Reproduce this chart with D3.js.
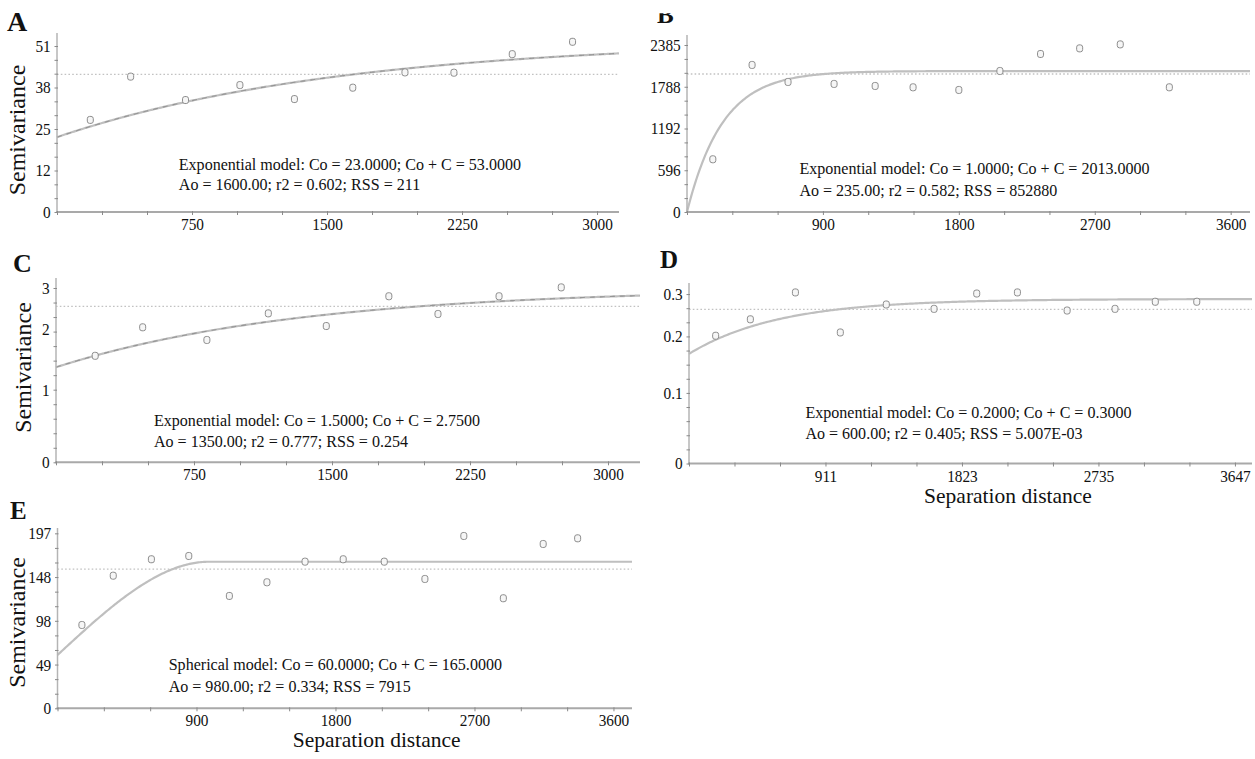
<!DOCTYPE html>
<html><head><meta charset="utf-8">
<script src="https://cdn.jsdelivr.net/npm/d3@7"></script>
<style>
html,body{margin:0;padding:0;background:#fff;}
svg{display:block;background:#fff;}
text{font-family:"Liberation Serif","Times New Roman",serif;fill:#111;}
</style></head><body>
<svg id="chart" width="1255" height="759"></svg>
<script>
// ================= DATA =================
const panelLetters = ["A", "B", "C", "D", "E"];

// semivariogram points: lag distance and semivariance
const aLags  = [185, 409, 714, 1016, 1319, 1643, 1933, 2205, 2529, 2864];
const aGamma = [28.3, 41.6, 34.4, 39.0, 34.7, 38.2, 42.9, 42.8, 48.5, 52.3];
const bLags  = [171, 431, 669, 974, 1246, 1497, 1800, 2072, 2341, 2600, 2869, 3194];
const bGamma = [753, 2100, 1857, 1829, 1800, 1781, 1743, 2014, 2257, 2337, 2394, 1781];
const cLags  = [213, 471, 820, 1154, 1469, 1809, 2076, 2408, 2746];
const cGamma = [1.68, 2.13, 1.93, 2.35, 2.15, 2.62, 2.34, 2.62, 2.76];
const dLags  = [178, 410, 711, 1011, 1318, 1637, 1922, 2194, 2526, 2846, 3115, 3392];
const dGamma = [0.233, 0.263, 0.312, 0.239, 0.290, 0.282, 0.310, 0.312, 0.279, 0.282, 0.295, 0.295];
const eLags  = [158, 361, 608, 850, 1113, 1356, 1603, 1850, 2116, 2379, 2631, 2887, 3145, 3368];
const eGamma = [93.8, 149.3, 167.8, 171.5, 126.5, 141.9, 165.1, 167.8, 165.1, 145.6, 194.0, 123.9, 185.0, 191.4];

// sample variance (dotted line) per panel
const sampleVariance = [42.3, 1971, 2.46, 0.281, 156.7];

// fitted models (from the panel texts)
const modelTypes = ["Exponential", "Exponential", "Exponential", "Exponential", "Spherical"];
const modelNugget = [23, 1, 1.5, 0.2, 60];
const modelSill   = [53, 2013, 2.75, 0.3, 165];
const modelRange  = [1600, 235, 1350, 600, 980];

const modelTextLine1 = [
  "Exponential model: Co = 23.0000; Co + C = 53.0000",
  "Exponential model: Co = 1.0000; Co + C = 2013.0000",
  "Exponential model: Co = 1.5000; Co + C = 2.7500",
  "Exponential model: Co = 0.2000; Co + C = 0.3000",
  "Spherical model: Co = 60.0000; Co + C = 165.0000"
];
const modelTextLine2 = [
  "Ao = 1600.00; r2 = 0.602; RSS = 211",
  "Ao = 235.00; r2 = 0.582; RSS = 852880",
  "Ao = 1350.00; r2 = 0.777; RSS = 0.254",
  "Ao = 600.00; r2 = 0.405; RSS = 5.007E-03",
  "Ao = 980.00; r2 = 0.334; RSS = 7915"
];

// tick labels
const aYTickValues = [0, 12.75, 25.5, 38.25, 51];
const aYTickLabels = ["0", "12", "25", "38", "51"];
const bYTickValues = [0, 596.25, 1192.5, 1788.75, 2385];
const bYTickLabels = ["0", "596", "1192", "1788", "2385"];
const cYTickValues = [0, 1.14, 2.1, 2.75];
const cYTickLabels = ["0", "1", "2", "3"];
const dYTickValues = [0, 0.128, 0.233, 0.309];
const dYTickLabels = ["0", "0.1", "0.2", "0.3"];
const eYTickValues = [0, 49.25, 98.5, 147.75, 197];
const eYTickLabels = ["0", "49", "98", "148", "197"];

const acXTickValues = [750, 1500, 2250, 3000];
const acXTickLabels = ["750", "1500", "2250", "3000"];
const beXTickValues = [900, 1800, 2700, 3600];
const beXTickLabels = ["900", "1800", "2700", "3600"];
const dXTickValues = [911.75, 1823.5, 2735.25, 3647];
const dXTickLabels = ["911", "1823", "2735", "3647"];

const yAxisTitle = "Semivariance";
const xAxisTitle = "Separation distance";

// ================= LAYOUT =================
const layout = [
  {x0: 57,  x1: 619,  y0: 212,   yTop: 33,  xMax: 3122, yMax: 55.0,   xMinor: 250,   yMinor: 51/12,
   txt: [178.8, 170, 190], letter: [7, 31, 28], ylab: [25, 130], xlab: null, dashed: true},
  {x0: 687, x1: 1250, y0: 212,   yTop: 35,  xMax: 3728, yMax: 2528,   xMinor: 300,   yMinor: 2385/12,
   txt: [799.4, 173.5, 195.5], letter: [657, 23.3, 25], ylab: null, xlab: null, dashed: false, clipTop: 13.3},
  {x0: 56,  x1: 640,  y0: 462.3, yTop: 278, xMax: 3174, yMax: 2.908,  xMinor: 250,   yMinor: 2.75/12,
   txt: [154, 425.5, 447], letter: [13, 271.7, 26], ylab: [31, 367.5], xlab: null, dashed: true},
  {x0: 689, x1: 1252, y0: 463.5, yTop: 283, xMax: 3761, yMax: 0.3292, xMinor: 3647/12, yMinor: 0.309/12,
   txt: [805.4, 418, 438.5], letter: [660, 268.3, 25], ylab: null, xlab: [1008, 502.8], dashed: false},
  {x0: 57.5, x1: 632, y0: 708.3, yTop: 528, xMax: 3720, yMax: 203.0,  xMinor: 300,   yMinor: 197/12,
   txt: [168.7, 670, 692], letter: [10, 518.5, 25], ylab: [25, 622.5], xlab: [376.7, 746.6], dashed: false}
];

const svg = d3.select("#chart");
svg.append("rect").attr("width", 1255).attr("height", 759).attr("fill", "#fff");

function modelValue(i, h) {
  const c0 = modelNugget[i], s = modelSill[i], a = modelRange[i];
  if (modelTypes[i] === "Spherical") {
    if (h >= a) return s;
    const r = h / a;
    return c0 + (s - c0) * (1.5 * r - 0.5 * r * r * r);
  }
  return c0 + (s - c0) * (1 - Math.exp(-h / a));
}

function drawPanel(i, lags, gamma, yTV, yTL, xTV, xTL) {
  const L = layout[i];
  const g = svg.append("g");
  const x = d3.scaleLinear().domain([0, L.xMax]).range([L.x0, L.x1]);
  const y = d3.scaleLinear().domain([0, L.yMax]).range([L.y0, L.yTop]);

  // sample variance dotted line
  g.append("line")
    .attr("x1", x(0)).attr("x2", x(L.xMax))
    .attr("y1", y(sampleVariance[i])).attr("y2", y(sampleVariance[i]))
    .attr("stroke", "#c2c2c2").attr("stroke-width", 1.3).attr("stroke-dasharray", "1.6,2.2");

  // model curve
  const hs = d3.range(0, L.xMax, L.xMax / 400).concat([L.xMax]);
  const line = d3.line().x(h => x(h)).y(h => y(modelValue(i, h)));
  g.append("path").attr("d", line(hs)).attr("fill", "none")
    .attr("stroke", "#bfbfbf").attr("stroke-width", 2.2);
  if (L.dashed) {
    g.append("path").attr("d", line(hs)).attr("fill", "none")
      .attr("stroke", "#959595").attr("stroke-width", 1.1).attr("stroke-dasharray", "5,5");
  }

  // axes lines
  g.append("line").attr("x1", x(0)).attr("x2", x(0)).attr("y1", y(0)).attr("y2", y(L.yMax))
    .attr("stroke", "#b4b4b4").attr("stroke-width", 1.5);
  g.append("line").attr("x1", x(0) - 1).attr("x2", x(L.xMax)).attr("y1", y(0)).attr("y2", y(0))
    .attr("stroke", "#a9a9a9").attr("stroke-width", 2);

  // minor ticks
  const yMinorVals = d3.range(0, L.yMax + 1e-12, L.yMinor).filter(v => v <= L.yMax);
  const yMin = g.append("g").attr("transform", `translate(${x(0)},0)`)
    .call(d3.axisLeft(y).tickValues(yMinorVals).tickSize(3).tickFormat(""));
  yMin.select(".domain").remove();
  yMin.selectAll(".tick line").attr("x1", 1).attr("x2", -2.5).attr("stroke", "#8a8a8a").attr("stroke-width", 1);

  const xMinorVals = d3.range(0, L.xMax + 1e-9, L.xMinor).filter(v => v <= L.xMax);
  const xMin = g.append("g").attr("transform", `translate(0,${y(0)})`)
    .call(d3.axisBottom(x).tickValues(xMinorVals).tickSize(3).tickFormat(""));
  xMin.select(".domain").remove();
  xMin.selectAll(".tick line").attr("y1", -1).attr("y2", 3).attr("stroke", "#8a8a8a").attr("stroke-width", 1);

  // major labels
  const yAx = g.append("g").attr("transform", `translate(${x(0)},0)`)
    .call(d3.axisLeft(y).tickValues(yTV).tickSize(0).tickPadding(6).tickFormat((d, k) => yTL[k]));
  yAx.select(".domain").remove();
  yAx.selectAll("text").attr("font-size", 17).attr("font-family", "Liberation Serif, serif")
    .attr("fill", "#111").attr("x", -7).attr("transform", "scale(0.9,1)");

  const xAx = g.append("g").attr("transform", `translate(0,${y(0)})`)
    .call(d3.axisBottom(x).tickValues(xTV).tickSize(0).tickPadding(6).tickFormat((d, k) => xTL[k]));
  xAx.select(".domain").remove();
  xAx.selectAll("text").attr("font-size", 17).attr("font-family", "Liberation Serif, serif")
    .attr("fill", "#111").attr("transform", "scale(0.9,1)");

  // points
  g.selectAll("rect.pt").data(lags.map((h, k) => [h, gamma[k]])).enter()
    .append("rect").attr("class", "pt")
    .attr("x", d => x(d[0]) - 3).attr("y", d => y(d[1]) - 3.5)
    .attr("width", 6).attr("height", 7).attr("rx", 2.3)
    .attr("fill", "#f6f6f6").attr("stroke", "#8d8d8d").attr("stroke-width", 1);

  // model text
  [modelTextLine1[i], modelTextLine2[i]].forEach((s, k) => {
    g.append("text").attr("transform", `translate(${L.txt[0]},${L.txt[1 + k]}) scale(0.945,1)`)
      .attr("font-size", 17).text(s);
  });

  // panel letter
  const lt = g.append("text").attr("x", L.letter[0]).attr("y", L.letter[1])
    .attr("font-size", L.letter[2]).attr("font-weight", "bold").text(panelLetters[i]);
  if (L.clipTop !== undefined) {
    svg.append("clipPath").attr("id", "clipB")
      .append("rect").attr("x", 640).attr("y", L.clipTop).attr("width", 60).attr("height", 30);
    lt.attr("clip-path", "url(#clipB)");
  }

  if (L.ylab) {
    g.append("text").attr("transform", `translate(${L.ylab[0]},${L.ylab[1]}) rotate(-90)`)
      .attr("text-anchor", "middle").attr("font-size", 24).text(yAxisTitle);
  }
  if (L.xlab) {
    g.append("text").attr("x", L.xlab[0]).attr("y", L.xlab[1])
      .attr("text-anchor", "middle").attr("font-size", 21.5).text(xAxisTitle);
  }
}

drawPanel(0, aLags, aGamma, aYTickValues, aYTickLabels, acXTickValues, acXTickLabels);
drawPanel(1, bLags, bGamma, bYTickValues, bYTickLabels, beXTickValues, beXTickLabels);
drawPanel(2, cLags, cGamma, cYTickValues, cYTickLabels, acXTickValues, acXTickLabels);
drawPanel(3, dLags, dGamma, dYTickValues, dYTickLabels, dXTickValues, dXTickLabels);
drawPanel(4, eLags, eGamma, eYTickValues, eYTickLabels, beXTickValues, beXTickLabels);
</script>
</body></html>
